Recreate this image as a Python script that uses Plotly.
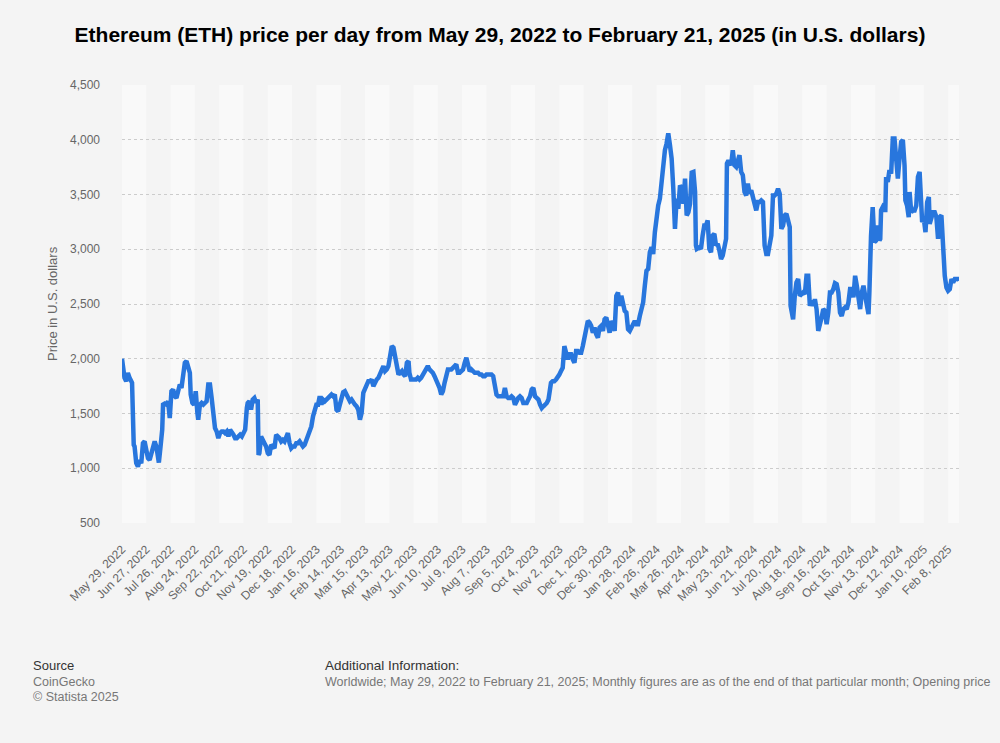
import datetime as dt
import plotly.graph_objects as go

# ---------------- data ----------------
start_date = "2022-05-29"
end_date = "2025-02-21"

# days elapsed since May 29, 2022
day_offset = [
    0, 2, 3, 5, 7, 9, 11, 12, 14, 15, 17, 19, 21, 23, 25, 27, 29, 31, 33, 35,
    37, 39, 41, 43, 44, 46, 48, 49, 51, 53, 55, 57, 59, 61, 63, 65, 67, 69, 71, 73,
    75, 77, 79, 81, 82, 84, 86, 88, 90, 91, 93, 95, 97, 99, 101, 103, 105, 107, 109, 111,
    113, 115, 117, 119, 121, 123, 125, 127, 129, 131, 133, 135, 137, 139, 141, 143, 145, 147, 149, 150,
    152, 154, 156, 158, 160, 162, 163, 164, 166, 168, 170, 172, 174, 176, 178, 180, 182, 184, 186, 188,
    190, 192, 194, 196, 198, 200, 202, 204, 206, 208, 210, 212, 214, 216, 218, 220, 222, 224, 226, 228,
    230, 232, 234, 236, 238, 240, 242, 244, 246, 248, 250, 252, 254, 256, 258, 260, 262, 264, 266, 268,
    270, 272, 274, 276, 278, 280, 282, 284, 286, 288, 290, 292, 294, 296, 298, 300, 302, 304, 306, 308,
    310, 312, 314, 316, 318, 320, 322, 324, 326, 328, 330, 332, 334, 336, 338, 340, 342, 343, 345, 347,
    349, 351, 353, 355, 357, 359, 361, 363, 365, 367, 369, 371, 373, 375, 377, 379, 381, 383, 385, 387,
    389, 391, 393, 395, 397, 399, 401, 403, 405, 407, 409, 411, 413, 415, 417, 419, 421, 423, 425, 427,
    429, 431, 433, 435, 437, 439, 441, 443, 445, 447, 449, 451, 453, 455, 457, 459, 461, 463, 465, 467,
    469, 471, 473, 475, 477, 479, 481, 483, 485, 487, 489, 491, 493, 495, 497, 499, 501, 503, 505, 507,
    509, 510, 512, 514, 516, 518, 520, 522, 524, 526, 528, 530, 532, 534, 536, 538, 540, 542, 544, 546,
    548, 550, 552, 554, 556, 558, 560, 562, 564, 566, 568, 570, 572, 574, 576, 578, 580, 582, 584, 586,
    588, 590, 592, 594, 596, 598, 600, 602, 604, 606, 608, 610, 612, 614, 616, 618, 620, 622, 624, 626,
    628, 630, 632, 634, 636, 638, 640, 642, 644, 646, 648, 650, 652, 654, 656, 658, 660, 662, 664, 666,
    668, 670, 672, 674, 676, 678, 680, 682, 684, 685, 686, 689, 691, 693, 695, 697, 699, 701, 703, 705,
    707, 709, 711, 713, 715, 717, 719, 721, 722, 723, 725, 727, 729, 731, 733, 735, 737, 739, 741, 743,
    745, 747, 749, 751, 753, 755, 757, 759, 761, 763, 765, 767, 769, 771, 773, 775, 777, 779, 781, 783,
    785, 787, 789, 791, 793, 795, 797, 798, 799, 801, 803, 805, 807, 809, 811, 813, 815, 817, 819, 821,
    823, 825, 827, 829, 831, 833, 835, 837, 839, 841, 843, 845, 847, 849, 851, 853, 855, 857, 859, 861,
    863, 865, 867, 869, 871, 873, 875, 877, 879, 881, 883, 885, 887, 889, 891, 892, 893, 894, 896, 898,
    900, 902, 904, 905, 906, 908, 910, 911, 912, 914, 916, 918, 919, 920, 922, 924, 926, 928, 930, 932,
    934, 935, 937, 939, 940, 942, 944, 946, 948, 950, 952, 953, 955, 957, 959, 961, 963, 964, 966, 968,
    970, 972, 974, 976, 978, 979, 981, 982, 984, 986, 988, 990, 992, 994, 996, 998, 999,
]

price_usd = [
    2000, 1830, 1826, 1795, 1870, 1826, 1795, 1780, 1214, 1199, 1046, 1015, 1076, 1046, 1229, 1245, 1168, 1092, 1076, 1138,
    1214, 1245, 1199, 1076, 1052, 1199, 1352, 1581, 1590, 1581, 1612, 1459, 1703, 1719, 1657, 1642, 1703, 1765, 1734, 1841,
    1963, 1979, 1902, 1872, 1673, 1596, 1581, 1703, 1505, 1443, 1581, 1596, 1581, 1596, 1612, 1765, 1765, 1642, 1474, 1367,
    1336, 1275, 1321, 1336, 1336, 1321, 1336, 1291, 1352, 1336, 1306, 1275, 1275, 1291, 1306, 1291, 1321, 1352, 1550, 1596,
    1612, 1535, 1627, 1642, 1600, 1627, 1122, 1138, 1291, 1245, 1229, 1199, 1138, 1122, 1214, 1199, 1183, 1306, 1291, 1275,
    1245, 1260, 1245, 1275, 1321, 1229, 1183, 1199, 1199, 1229, 1229, 1245, 1214, 1199, 1214, 1260, 1275, 1321, 1382, 1474,
    1550, 1581, 1581, 1657, 1581, 1627, 1612, 1627, 1642, 1657, 1673, 1657, 1673, 1535, 1520, 1581, 1657, 1694, 1703, 1673,
    1642, 1612, 1627, 1596, 1581, 1566, 1535, 1443, 1505, 1688, 1734, 1765, 1795, 1795, 1810, 1749, 1795, 1810, 1826, 1872,
    1887, 1933, 1887, 1902, 1933, 2055, 2116, 2101, 2009, 1902, 1856, 1872, 1887, 1856, 1841, 1963, 1979, 1872, 1810, 1810,
    1810, 1810, 1826, 1810, 1826, 1856, 1887, 1902, 1933, 1902, 1887, 1872, 1841, 1810, 1780, 1734, 1673, 1703, 1780, 1872,
    1902, 1902, 1902, 1917, 1933, 1948, 1872, 1872, 1887, 1902, 1963, 2009, 1948, 1887, 1902, 1887, 1872, 1872, 1872, 1856,
    1856, 1841, 1841, 1856, 1856, 1856, 1856, 1841, 1749, 1673, 1657, 1657, 1657, 1657, 1734, 1657, 1642, 1642, 1657, 1642,
    1581, 1627, 1642, 1657, 1642, 1596, 1596, 1596, 1627, 1657, 1719, 1734, 1657, 1642, 1627, 1581, 1550, 1566, 1581, 1596,
    1627, 1690, 1780, 1795, 1795, 1810, 1826, 1856, 1887, 1917, 2116, 2070, 1994, 2040, 2040, 1994, 1963, 2070, 2070, 2055,
    2055, 2116, 2193, 2284, 2345, 2330, 2300, 2238, 2284, 2223, 2193, 2284, 2300, 2254, 2361, 2376, 2315, 2238, 2345, 2315,
    2254, 2575, 2605, 2483, 2575, 2483, 2437, 2422, 2269, 2254, 2284, 2330, 2345, 2315, 2315, 2391, 2453, 2514, 2667, 2804,
    2820, 2972, 3018, 2957, 3156, 3339, 3400, 3462, 3614, 3829, 3905, 3966, 4058, 3951, 3829, 3553, 3186, 3462, 3370, 3584,
    3553, 3416, 3645, 3309, 3339, 3416, 3700, 3706, 3523, 3034, 3003, 3018, 3003, 3125, 3217, 3217, 3263, 3003, 2972, 3125,
    3141, 3034, 3049, 2988, 2911, 2942, 3003, 3095, 3783, 3798, 3798, 3767, 3905, 3767, 3752, 3813, 3859, 3706, 3676, 3523,
    3492, 3599, 3508, 3538, 3462, 3385, 3355, 3431, 3431, 3446, 3431, 3034, 2957, 2957, 3064, 3125, 3492, 3492, 3508, 3553,
    3508, 3186, 3217, 3309, 3324, 3278, 3202, 2483, 2422, 2361, 2575, 2697, 2728, 2575, 2590, 2605, 2590, 2758, 2758, 2483,
    2529, 2483, 2544, 2453, 2254, 2300, 2376, 2453, 2437, 2315, 2422, 2605, 2605, 2636, 2691, 2682, 2605, 2422, 2391, 2453,
    2468, 2453, 2514, 2636, 2636, 2560, 2758, 2667, 2544, 2453, 2605, 2667, 2575, 2453, 2407, 2600, 2942, 3125, 3385, 3064,
    3079, 3217, 3079, 3095, 3355, 3400, 3416, 3339, 3660, 3615, 3722, 3691, 3844, 4012, 4012, 3798, 3645, 3829, 3981, 3997,
    3767, 3446, 3400, 3294, 3523, 3339, 3355, 3355, 3400, 3660, 3706, 3553, 3248, 3278, 3156, 3431, 3477, 3232, 3309, 3339,
    3339, 3294, 3095, 3294, 3309, 3095, 2896, 2758, 2651, 2621, 2636, 2728, 2697, 2728, 2728, 2728, 2712,
]

y_ticks = [500, 1000, 1500, 2000, 2500, 3000, 3500, 4000, 4500]
tick_step_days = 29

title_text = "Ethereum (ETH) price per day from May 29, 2022 to February 21, 2025 (in U.S. dollars)"
y_title = "Price in U.S. dollars"
source_label = "Source"
source_lines = ["CoinGecko", "© Statista 2025"]
info_label = "Additional Information:"
info_text = ("Worldwide; May 29, 2022 to February 21, 2025; Monthly figures are as of the end of "
             "that particular month; Opening price")

# ---------------- build ----------------
d0 = dt.date.fromisoformat(start_date)
d_end = dt.date.fromisoformat(end_date)
dates = [d0 + dt.timedelta(days=o) for o in day_offset]

tick_dates = []
d = d0
while d <= d_end:
    tick_dates.append(d)
    d += dt.timedelta(days=tick_step_days)
tick_text = [f"{t.strftime('%b')} {t.day}, {t.year}" for t in tick_dates]

FONT = "Liberation Sans, Arial, sans-serif"
BG = "#f4f4f4"
BAND = "#f9f9f9"

fig = go.Figure()
fig.add_trace(go.Scatter(
    x=dates, y=price_usd, mode="lines",
    line=dict(color="#2876dd", width=4.5),
    hoverinfo="x+y", showlegend=False,
))

# alternating vertical bands
bounds = tick_dates + [d_end]
shapes = []
for i in range(len(bounds) - 1):
    if i % 2 == 0:
        shapes.append(dict(type="rect", xref="x", yref="paper",
                           x0=bounds[i], x1=bounds[i + 1], y0=0, y1=1,
                           fillcolor=BAND, line=dict(width=0), layer="below"))

L, R, T, B = 122, 41, 85, 220
W, H = 1000, 743
pw, ph = W - L - R, H - T - B

def px_x(px):
    return (px - L) / pw

def px_y(py):
    return (H - B - py) / ph

annotations = [
    dict(text=y_title, textangle=-90, x=px_x(52), y=0.5, xref="paper", yref="paper",
         showarrow=False, font=dict(family=FONT, size=13, color="#666666"),
         xanchor="center", yanchor="middle"),
    dict(text=source_label, x=px_x(31), y=px_y(665), xref="paper", yref="paper",
         showarrow=False, xanchor="left", yanchor="middle",
         font=dict(family=FONT, size=13, color="#333333")),
    dict(text=source_lines[0], x=px_x(31), y=px_y(681.5), xref="paper", yref="paper",
         showarrow=False, xanchor="left", yanchor="middle",
         font=dict(family=FONT, size=12.5, color="#777777")),
    dict(text=source_lines[1], x=px_x(31), y=px_y(697), xref="paper", yref="paper",
         showarrow=False, xanchor="left", yanchor="middle",
         font=dict(family=FONT, size=12.5, color="#777777")),
    dict(text=info_label, x=px_x(323), y=px_y(665), xref="paper", yref="paper",
         showarrow=False, xanchor="left", yanchor="middle",
         font=dict(family=FONT, size=13.5, color="#333333")),
    dict(text=info_text, x=px_x(323), y=px_y(682), xref="paper", yref="paper",
         showarrow=False, xanchor="left", yanchor="middle",
         font=dict(family=FONT, size=12.5, color="#777777")),
]

fig.update_layout(
    width=W, height=H,
    margin=dict(l=L, r=R, t=T, b=B, autoexpand=False),
    paper_bgcolor=BG, plot_bgcolor=BG,
    font=dict(family=FONT, color="#666666"),
    title=dict(text=title_text, x=0.5, xref="container", xanchor="center",
               y=1 - 35 / H, yref="container", yanchor="middle",
               font=dict(family=FONT, size=21, color="#000000", weight="bold")),
    shapes=shapes,
    annotations=annotations,
    xaxis=dict(type="date", range=[d0, d_end], tickmode="array",
               tickvals=tick_dates, ticktext=tick_text, tickangle=-45,
               showgrid=False, zeroline=False, showline=False, ticks="",
               ticklabelstandoff=16,
               tickfont=dict(family=FONT, size=12, color="#666666")),
    yaxis=dict(range=[500, 4500], tickmode="array", tickvals=y_ticks,
               tickformat=",d", showgrid=True, gridcolor="#cccccc",
               griddash="dot", gridwidth=1, zeroline=False, showline=False,
               ticks="", ticklabelstandoff=21,
               tickfont=dict(family=FONT, size=12, color="#666666")),
)

fig.write_html(
    "out.html",
    config={"displayModeBar": False},
    post_script="document.body.style.margin='0';document.body.style.background='#f4f4f4';",
)
